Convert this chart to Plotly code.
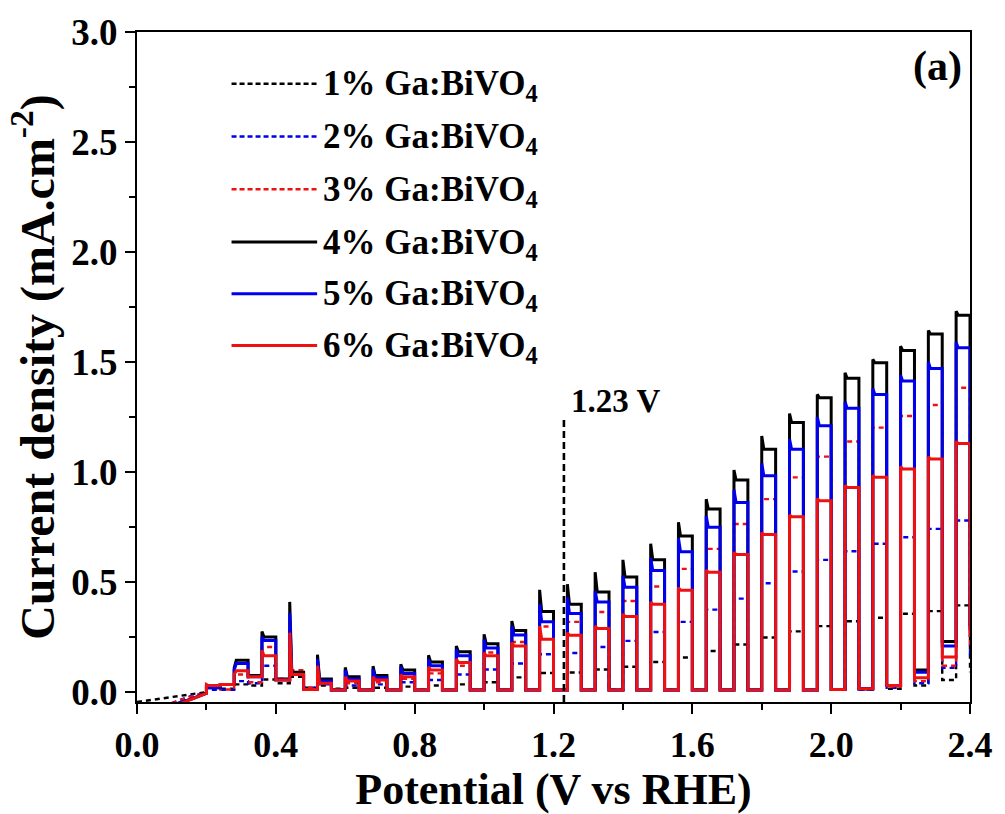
import plotly.graph_objects as go

# ---------------- data ----------------
# Light-chopping edges (V vs RHE): light on at pulse_on, off at pulse_off
pulse_on = [0.20, 0.28, 0.36, 0.44, 0.52, 0.60, 0.68, 0.76, 0.84, 0.92, 1.00, 1.08, 1.16, 1.24,
            1.32, 1.40, 1.48, 1.56, 1.64, 1.72, 1.80, 1.88, 1.96, 2.04, 2.12, 2.20, 2.28, 2.36]
pulse_off = [0.24, 0.32, 0.40, 0.48, 0.56, 0.64, 0.72, 0.80, 0.88, 0.96, 1.04, 1.12, 1.20, 1.28,
             1.36, 1.44, 1.52, 1.60, 1.68, 1.76, 1.84, 1.92, 2.00, 2.08, 2.16, 2.24, 2.32, 2.40]

# Start of each sweep before the first light pulse
lead_v_1 = [0.00, 0.07, 0.13, 0.20]
lead_j_1 = [-0.045, -0.030, -0.015, 0.000]
lead_v_2 = [0.10, 0.16, 0.20]
lead_j_2 = [-0.050, -0.015, -0.005]
lead_v_3 = [0.10, 0.16, 0.20]
lead_j_3 = [-0.050, -0.018, -0.005]
lead_v_4 = [0.11, 0.16, 0.20]
lead_j_4 = [-0.055, -0.030, -0.004]
lead_v_5 = [0.11, 0.16, 0.20]
lead_j_5 = [-0.055, -0.030, -0.005]
lead_v_6 = [0.12, 0.16, 0.20]
lead_j_6 = [-0.055, -0.032, -0.006]

# Photocurrent (mA cm^-2) at the end of each light pulse
light_1 = [0.020, 0.035, 0.057, 0.070, 0.030, 0.020, 0.020, 0.025, 0.030, 0.035, 0.045, 0.067, 0.087, 0.089,
           0.103, 0.115, 0.137, 0.157, 0.187, 0.216, 0.248, 0.276, 0.300, 0.322, 0.338, 0.356, 0.368, 0.394]
light_2 = [0.010, 0.050, 0.120, 0.090, 0.035, 0.030, 0.035, 0.045, 0.055, 0.080, 0.103, 0.130, 0.172, 0.178,
           0.205, 0.233, 0.273, 0.319, 0.375, 0.425, 0.495, 0.548, 0.601, 0.640, 0.674, 0.704, 0.742, 0.780]
light_3 = [0.020, 0.080, 0.205, 0.100, 0.040, 0.040, 0.045, 0.060, 0.085, 0.120, 0.180, 0.228, 0.298, 0.319,
           0.364, 0.414, 0.480, 0.560, 0.651, 0.764, 0.877, 0.976, 1.070, 1.139, 1.202, 1.255, 1.305, 1.383]
light_4 = [0.020, 0.145, 0.250, 0.090, 0.060, 0.070, 0.075, 0.100, 0.137, 0.183, 0.220, 0.280, 0.366, 0.399,
           0.455, 0.523, 0.601, 0.710, 0.832, 0.964, 1.104, 1.225, 1.338, 1.426, 1.497, 1.553, 1.628, 1.713]
light_5 = [0.020, 0.130, 0.235, 0.080, 0.050, 0.060, 0.065, 0.085, 0.120, 0.165, 0.200, 0.260, 0.320, 0.357,
           0.409, 0.477, 0.553, 0.638, 0.749, 0.862, 0.983, 1.104, 1.210, 1.290, 1.353, 1.414, 1.471, 1.565]
light_6 = [0.030, 0.097, 0.165, 0.080, 0.040, 0.050, 0.055, 0.070, 0.100, 0.135, 0.165, 0.210, 0.240, 0.258,
           0.289, 0.344, 0.399, 0.463, 0.545, 0.625, 0.716, 0.797, 0.870, 0.930, 0.976, 1.014, 1.059, 1.130]

# Transient peak right after the light is switched on (solid samples)
spike_4 = [0.030, 0.110, 0.275, 0.410, 0.170, 0.112, 0.118, 0.127, 0.168, 0.210, 0.263, 0.323, 0.465, 0.490,
           0.545, 0.601, 0.674, 0.772, 0.877, 1.009, 1.164, 1.266, 1.353, 1.451, 1.512, 1.572, 1.643, 1.731]
spike_5 = [0.030, 0.100, 0.250, 0.360, 0.150, 0.100, 0.105, 0.115, 0.150, 0.195, 0.240, 0.300, 0.400, 0.430,
           0.460, 0.530, 0.610, 0.700, 0.800, 0.920, 1.040, 1.150, 1.250, 1.320, 1.380, 1.440, 1.500, 1.590]
spike_6 = [0.035, 0.080, 0.190, 0.270, 0.120, 0.070, 0.070, 0.080, 0.115, 0.150, 0.180, 0.225, 0.300, 0.270,
           0.300, 0.355, 0.410, 0.475, 0.555, 0.635, 0.725, 0.805, 0.880, 0.940, 0.985, 1.025, 1.070, 1.140]

# Dark current in the interval after each pulse
dark_1 = [0.015, 0.030, 0.040, 0.020, 0.015, 0.010, 0.010, 0.010, 0.010, 0.010, 0.010, 0.010, 0.010, 0.010,
          0.010, 0.010, 0.010, 0.010, 0.010, 0.010, 0.010, 0.010, 0.010, 0.012, 0.015, 0.030, 0.055, 0.090]
dark_2 = [0.010, 0.040, 0.060, 0.020, 0.012, 0.010, 0.010, 0.010, 0.010, 0.010, 0.010, 0.010, 0.010, 0.010,
          0.010, 0.010, 0.010, 0.010, 0.010, 0.010, 0.010, 0.010, 0.010, 0.012, 0.020, 0.040, 0.110, 0.160]
dark_3 = [0.012, 0.045, 0.060, 0.020, 0.012, 0.010, 0.010, 0.010, 0.010, 0.010, 0.010, 0.010, 0.010, 0.010,
          0.010, 0.010, 0.010, 0.010, 0.010, 0.010, 0.010, 0.010, 0.012, 0.015, 0.025, 0.050, 0.120, 0.200]
dark_4 = [0.035, 0.075, 0.060, 0.012, 0.010, 0.010, 0.010, 0.010, 0.010, 0.010, 0.010, 0.010, 0.010, 0.010,
          0.010, 0.010, 0.010, 0.010, 0.010, 0.010, 0.010, 0.010, 0.012, 0.015, 0.030, 0.100, 0.230, 0.300]
dark_5 = [0.035, 0.070, 0.055, 0.012, 0.010, 0.010, 0.010, 0.010, 0.010, 0.010, 0.010, 0.010, 0.010, 0.010,
          0.010, 0.010, 0.010, 0.010, 0.010, 0.010, 0.010, 0.010, 0.012, 0.015, 0.030, 0.090, 0.210, 0.280]
dark_6 = [0.035, 0.070, 0.055, 0.012, 0.010, 0.010, 0.010, 0.010, 0.010, 0.010, 0.010, 0.010, 0.010, 0.010,
          0.010, 0.010, 0.010, 0.010, 0.010, 0.010, 0.010, 0.010, 0.012, 0.015, 0.030, 0.065, 0.160, 0.250]

labels = ["1% Ga:BiVO<sub>4</sub>", "2% Ga:BiVO<sub>4</sub>", "3% Ga:BiVO<sub>4</sub>",
          "4% Ga:BiVO<sub>4</sub>", "5% Ga:BiVO<sub>4</sub>", "6% Ga:BiVO<sub>4</sub>"]
colors = ["#000000", "#0000ee", "#ee1111", "#000000", "#0000ee", "#ee1111"]
dashed = [True, True, True, False, False, False]

FONT = "Liberation Serif"


def chopped_sweep(lead_v, lead_j, light, dark, spike=None):
    """Build the step-shaped trace of a chopped-light LSV sweep."""
    xs, ys = list(lead_v), list(lead_j)
    for i, (t_on, t_off) in enumerate(zip(pulse_on, pulse_off)):
        xs.append(t_on)
        ys.append(ys[-1])
        xs.append(t_on)
        if spike is not None:
            ys.append(spike[i])
            xs.append(t_on + 0.006)
            ys.append(light[i])
        else:
            ys.append(light[i])
        xs += [t_off, t_off]
        ys += [light[i], dark[i]]
        if i + 1 < len(pulse_on):
            xs.append(pulse_on[i + 1])
            ys.append(dark[i])
    return xs, ys


series = [
    (lead_v_1, lead_j_1, light_1, dark_1, None),
    (lead_v_2, lead_j_2, light_2, dark_2, None),
    (lead_v_3, lead_j_3, light_3, dark_3, None),
    (lead_v_4, lead_j_4, light_4, dark_4, spike_4),
    (lead_v_5, lead_j_5, light_5, dark_5, spike_5),
    (lead_v_6, lead_j_6, light_6, dark_6, spike_6),
]

fig = go.Figure()
for (lv, lj, lt, dk, sp), name, col, dsh in zip(series, labels, colors, dashed):
    x, y = chopped_sweep(lv, lj, lt, dk, sp)
    fig.add_trace(go.Scatter(
        x=x, y=y, mode="lines", name=name, showlegend=False,
        line=dict(color=col, width=2.4 if dsh else 3.0, dash="5px,4px" if dsh else "solid"),
    ))

# 1.23 V marker
fig.add_trace(go.Scatter(
    x=[1.23, 1.23], y=[-0.045, 1.25], mode="lines", showlegend=False,
    line=dict(color="black", width=2.6, dash="7px,4px"),
))

# Hand-drawn legend (long line samples)
x0_px, x1_px = 137, 974
y0_px, y1_px = 29, 702


def px_x(p):
    return (p - x0_px) / (x1_px - x0_px)


def px_y(p):
    return 1 - (p - y0_px) / (y1_px - y0_px)


legend_rows = [81, 134, 187, 240, 292, 344]
for row, name, col, dsh in zip(legend_rows, labels, colors, dashed):
    fig.add_shape(type="line", xref="paper", yref="paper",
                  x0=px_x(232), x1=px_x(318), y0=px_y(row), y1=px_y(row),
                  line=dict(color=col, width=2.4 if dsh else 3.0, dash="5px,3px" if dsh else "solid"))
    fig.add_annotation(xref="paper", yref="paper", x=px_x(322), y=px_y(row + 2),
                       text=name, showarrow=False, xanchor="left", yanchor="middle",
                       font=dict(family=FONT, size=35, color="black", weight="bold"))

fig.add_annotation(x=1.245, y=1.23, xref="x", yref="y", text="1.23 V", showarrow=False,
                   xanchor="left", yanchor="bottom",
                   font=dict(family=FONT, size=33, color="black", weight="bold"))
fig.add_annotation(xref="paper", yref="paper", x=px_x(968), y=px_y(64), text="(a)",
                   showarrow=False, xanchor="right", yanchor="middle",
                   font=dict(family=FONT, size=42, color="black", weight="bold"))

axis_common = dict(
    showline=True, linecolor="black", linewidth=2, mirror=True,
    ticks="outside", ticklen=10, tickwidth=2, tickcolor="black",
    showgrid=False, zeroline=False,
)

fig.update_xaxes(
    range=[0, 2.4], dtick=0.4, tick0=0, tickformat=".1f",
    tickfont=dict(family=FONT, size=36, color="black", weight="bold"),
    minor=dict(ticks="outside", ticklen=6, tickwidth=2, dtick=0.2, tickcolor="black"),
    title=dict(text="Potential (V vs RHE)", standoff=6,
               font=dict(family=FONT, size=44, color="black", weight="bold")),
    **axis_common,
)
fig.update_yaxes(
    range=[-0.045, 3.0], dtick=0.5, tick0=0, tickformat=".1f",
    tickfont=dict(family=FONT, size=37, color="black", weight="bold"),
    minor=dict(ticks="outside", ticklen=6, tickwidth=2, dtick=0.25, tickcolor="black"),
    title=dict(text="Current density (mA.cm<sup>-2</sup>)", standoff=2,
               font=dict(family=FONT, size=48, color="black", weight="bold")),
    **axis_common,
)

fig.update_layout(
    width=1005, height=814,
    margin=dict(l=137, r=31, t=29, b=112),
    paper_bgcolor="white", plot_bgcolor="white",
    font=dict(family=FONT, color="black"),
)

fig.write_html("out.html")
